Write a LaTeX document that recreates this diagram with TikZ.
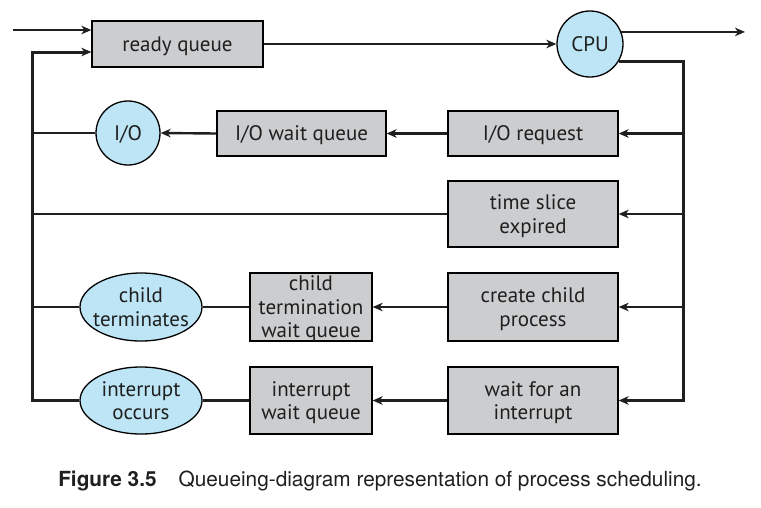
\documentclass[tikz,border=0pt]{standalone}
\usepackage{fontspec}
\setmainfont{PT Sans}
\newfontfamily\capfont{TeX Gyre Heros}
\usepackage{tikz}
\usetikzlibrary{arrows.meta,shapes}

\begin{document}
\begin{tikzpicture}[x=1pt, y=1pt, >={Stealth[length=10pt,width=8.5pt,inset=3pt]},
  queue/.style={draw, line width=1.3pt, fill=qgray, inner sep=0pt, align=center, text depth=0pt,
     font=\fontsize{21}{23.5}\selectfont, text=black!88},
  disc/.style={circle, draw, line width=1.3pt, fill=qblue, inner sep=0pt, text depth=0pt,
     font=\fontsize{21}{23.5}\selectfont, text=black!88},
  oval/.style={ellipse, draw, line width=1.3pt, fill=qblue, inner xsep=-12pt, inner ysep=-4pt,
     align=center, text depth=0pt, minimum width=122pt, minimum height=68pt,
     font=\fontsize{21}{23.5}\selectfont, text=black!88},
  wire/.style={line width=2.4pt, draw=black!88}]

\definecolor{qgray}{RGB}{204,205,207}
\definecolor{qblue}{RGB}{189,229,246}

\useasboundingbox (0,0) rectangle (761,-507);

% queues and devices
 \node [queue, minimum width=171pt, minimum height=46pt] (rq) at (177.5,-44){ready queue};
 \node [disc, minimum size=66pt] (cpu) at (590,-44){CPU};
 \node [disc, minimum size=64pt] (io) at (128,-133){I/O};
 \node [queue, minimum width=169pt, minimum height=45pt] (iowq) at (301.5,-133.5){I/O wait queue};
 \node [queue, minimum width=170pt, minimum height=45pt] (ioreq) at (533,-133.5){I/O request};
 \node [queue, minimum width=170pt, minimum height=66pt] (ts) at (533,-214){time slice\\expired};
 \node [queue, minimum width=170pt, minimum height=68pt] (ccp) at (533,-307){create child\\process};
 \node [queue, minimum width=170pt, minimum height=67pt] (wfi) at (533,-400.5){wait for an\\interrupt};
 \node [queue, minimum width=122pt, minimum height=68pt] (ctwq) at (311,-307){child\\termination\\wait queue};
 \node [queue, minimum width=122pt, minimum height=67pt] (iwq) at (311,-400.5){interrupt\\wait queue};
 \node [oval] (ct) at (141,-307){child\\terminates};
 \node [oval, minimum height=67pt] (io2) at (141,-400.5){interrupt\\occurs};

 \coordinate (in) at (13,-30);
 \coordinate (out) at (745,-32);
 \coordinate (lt) at (32,-52);
 \coordinate (lb) at (32,-400.5);
 \coordinate (rb) at (683,-400.5);

% entry and exit
  \draw[wire,->] (in) -- (in -| rq.west);
  \draw[wire,->] (rq.east) -- (cpu.west);
  \draw[wire,->] (cpu.21) -- (cpu.21 -| out);

% from the cpu down the right side
  \draw[wire,line width=3pt,->] (cpu.-31) -- (cpu.-31 -| rb) -- (rb) -- (wfi.east);
  \draw[wire,->] (rb |- ioreq) -- (ioreq.east);
  \draw[wire,->] (rb |- ts) -- (ts.east);
  \draw[wire,->] (rb |- ccp) -- (ccp.east);

% waiting rows
  \draw[wire,->] (ioreq.west) -- (iowq.east);
  \draw[wire,->] (iowq.west) -- (io.east);
  \draw[wire,->] (ccp.west) -- (ctwq.east);
  \draw[wire] (ctwq.west) -- (ct.east);
  \draw[wire,->] (wfi.west) -- (iwq.east);
  \draw[wire] (iwq.west) -- (io2.east);

% back to the ready queue
  \draw[wire,line width=3pt,->] (io2.west) -- (lb) -- (lt) -- (lt -| rq.west);
  \draw[wire] (io.west) -- (lb |- io);
  \draw[wire] (ts.west) -- (lb |- ts);
  \draw[wire] (ct.west) -- (lb |- ct);

 \node [font=\capfont\fontsize{20.8}{24}\selectfont, text=black!88] (cap) at (380,-481)
   {\textbf{Figure 3.5}\hspace{22pt}Queueing-diagram representation of process scheduling.};

\end{tikzpicture}
\end{document}
